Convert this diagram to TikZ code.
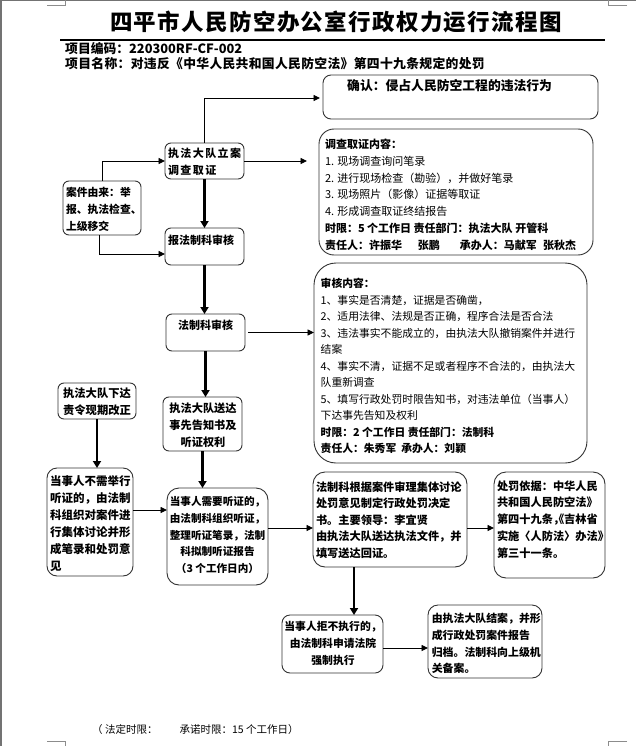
\documentclass[tikz,border=0pt]{standalone}
\usepackage{fontspec}
\setmainfont{Noto Sans CJK SC}
\usetikzlibrary{arrows.meta,calc}
\newcommand{\fsz}[2]{\fontsize{#1pt}{#2pt}\selectfont}
\newcommand{\hw}[1]{{\addfontfeature{CharacterWidth=AlternateHalf}#1}}
\begin{document}
\begin{tikzpicture}[x=1pt,y=-1pt,
  box/.style={draw=black!80,line width=0.9pt,rounded corners=6pt,anchor=north west,inner sep=0pt,outer sep=0pt},
  tl/.style={inner sep=0pt,outer sep=0pt,anchor=north west,align=left},
  tc/.style={inner sep=0pt,outer sep=0pt,anchor=north,align=center},
  arr/.style={line width=0.9pt,-{Triangle[length=6.5pt,width=6pt]}},
  tarr/.style={line width=2.4pt,-{Triangle[length=7pt,width=8pt]}},
  cornermark/.style={draw=black!45,line width=0.8pt}]
\useasboundingbox (0,0) rectangle (636,746);
\fill[white] (0,0) rectangle (636,746);
\fill[black!55] (0,0) rectangle (2,746);
\fill[black!55] (0,0) rectangle (636,1.5);
% corner marks
\draw[cornermark] (47,5.5) -- (65,5.5) -- (65,0);
\draw[cornermark] (627,5.5) -- (608,5.5) -- (608,0);
\draw[cornermark] (47,741.5) -- (65,741.5) -- (65,746);
\draw[cornermark] (627,741.5) -- (608,741.5) -- (608,746);
% header
\node[inner sep=0pt,font=\bfseries\fsz{22.5}{26}\addfontfeature{LetterSpace=6}] (title) at (336,22) {四平市人民防空办公室行政权力运行流程图};
\draw[line width=1.3pt] (60,40) -- (605,40);
\node[anchor=west,inner sep=0pt,font=\bfseries\fsz{12.8}{15}] (code) at (65,49) {项目编码：220300RF-CF-002};
\node[anchor=west,inner sep=0pt,font=\bfseries\fsz{12.8}{15}\addfontfeature{LetterSpace=2.5}] (pname) at (65,64) {项目名称：对违反《中华人民共和国人民防空法》第四十九条规定的处罚};
% boxes
\node[box,rounded corners=8pt,minimum width=275pt,minimum height=44pt] (qr) at (323,75) {};
\node[anchor=west,inner sep=0pt,font=\bfseries\fsz{12.8}{15}] (qrt) at (347,86) {确认：侵占人民防空工程的违法行为};

\node[box,rounded corners=15pt,minimum width=274pt,minimum height=126pt] (dc) at (319,129) {};
\node[tl,font=\fsz{11}{16.83}] (dct) at (325,138.9) {\textbf{调查取证内容：}\\1. 现场调查询问笔录\\2. 进行现场检查（勘验），并做好笔录\\3. 现场照片（影像）证据等取证\\4. 形成调查取证终结报告\\\textbf{时限：5 个工作日\ 责任部门：执法大队\ 开管科}\\\textbf{责任人：许振华\hspace{16pt}张鹏\hspace{20pt}承办人：马献军\hspace{6pt}张秋杰}};

\node[box,minimum width=79pt,minimum height=36pt] (zf) at (165,143) {};
\node[tl,font=\bfseries\fsz{11}{17}\addfontfeature{LetterSpace=13}] (zft) at (168,147.9) {执法大队立案\\调查取证};

\node[box,minimum width=78pt,minimum height=54pt] (ay) at (63,181) {};
\node[tl,font=\bfseries\fsz{10.8}{17}] (ayt) at (66,187) {案件由来：举\\报、执法检查、\\上级移交};

\node[box,minimum width=79pt,minimum height=37pt] (bf) at (165,228) {};
\node[anchor=west,inner sep=0pt,font=\bfseries\fsz{11}{13}] (bft) at (168,240) {报法制科审核};

\node[box,rounded corners=22pt,minimum width=273pt,minimum height=200pt] (sh) at (314,263) {};
\node[tl,font=\fsz{10.8}{16.5}] (sht) at (320.7,278.3) {\textbf{审核内容：}\\1、事实是否清楚，证据是否确凿，\\2、适用法律、法规是否正确，程序合法是否合法\\3、违法事实不能成立的，由执法大队撤销案件并进行\\结案\\4、事实不清，证据不足或者程序不合法的，由执法大\\队重新调查\\5、填写行政处罚时限告知书，对违法单位（当事人）\\下达事先告知及权利\\\textbf{时限：2 个工作日\ 责任部门：法制科}\\\textbf{责任人：朱秀军\ \ 承办人：刘颖}};

\node[box,minimum width=79pt,minimum height=37pt] (fz) at (166,314) {};
\node[inner sep=0pt,font=\bfseries\fsz{11}{13}] (fzt) at (205.5,325) {法制科审核};

\node[box,minimum width=78pt,minimum height=36pt] (xd) at (58,383) {};
\node[tc,font=\bfseries\fsz{11.3}{17}] (xdt) at (97,387.8) {执法大队下达\\责令现期改正};

\node[box,minimum width=79pt,minimum height=54pt] (sd) at (163,397) {};
\node[tc,font=\bfseries\fsz{11.2}{17}] (sdt) at (203,402.8) {执法大队送达\\事先告知书及\\听证权利};

\node[box,rounded corners=10pt,minimum width=86pt,minimum height=108pt] (bx) at (47,468) {};
\node[tl,font=\bfseries\fsz{11.5}{16.9}] (bxt) at (50,475.7) {当事人不需举行\\听证的，由法制\\科组织对案件进\\行集体讨论并形\\成笔录和处罚意\\见};

\node[box,rounded corners=12pt,minimum width=101pt,minimum height=97pt] (xy) at (167,488) {};
\node[tc,font=\bfseries\fsz{10.6}{16.7}] (xyt) at (217.5,496.8) {当事人需要听证的，\\由法制科组织听证，\\整理听证笔录，法制\\科拟制听证报告\\（3 个工作日内）};

\node[box,rounded corners=12pt,minimum width=154pt,minimum height=95pt] (gj) at (313,472) {};
\node[tl,font=\bfseries\fsz{11.2}{16.5}] (gjt) at (316,481.5) {法制科根据案件审理集体讨论\\处罚意见制定行政处罚决定\\书。主要领导：李宜贤\\由执法大队送达执法文件，并\\填写送达回证。};

\node[box,rounded corners=12pt,minimum width=111pt,minimum height=106pt] (yj) at (494,472) {};
\node[tl,font=\bfseries\fsz{11.2}{16.75}] (yjt) at (497,480.4) {处罚依据：中华人民\\共和国人民防空法》\\第四十九条\hw{，《}吉林省\\实施〈人防法〉办法》\\第三十一条。};

\node[box,rounded corners=8pt,minimum width=101pt,minimum height=58pt] (jz) at (282,615) {};
\node[tc,font=\bfseries\fsz{10.8}{16.7}] (jzt) at (333,621.6) {当事人拒不执行的，\\由法制科申请法院\\强制执行};

\node[box,rounded corners=10pt,minimum width=114pt,minimum height=73pt] (ja) at (428,605) {};
\node[tl,font=\bfseries\fsz{10.9}{16.7}] (jat) at (431.8,613.3) {由执法大队结案，并形\\成行政处罚案件报告\\归档。法制科向上级机\\关备案。};

\node[anchor=west,inner sep=0pt,font=\fsz{10.5}{12}] (foot) at (92,730) {（ 法定时限：\hspace{22pt}承诺时限：15 个工作日）};

% connectors
\draw[arr] (zf.north) |- ($(qr.north west)+(-3,23)$);
\draw[arr] (zf.east) -- ($(zf.east -| dc.west)+(-12,0)$);
\draw[arr] (ay.north) |- (zf.west);
\draw[arr] ([xshift=-3pt]ay.south) |- ($(bf.west)+(0,7.5)$);
\draw[tarr] (zf.south) -- (zf.south |- bf.north);
\draw[tarr] (bf.south) -- (bf.south |- fz.north);
\draw[arr,shorten <=3pt] (fz.east) -- (fz.east -| sh.west);
\draw[tarr] (fz.south) -- (fz.south |- sd.north);
\draw[tarr] (xd.south) -- (xd.south |- bx.north);
\draw[tarr] (sd.south) -- (sd.south |- xy.north);
\draw[arr] ($(bx.east)+(0,-12)$) -- ($(bx.east -| xy.west)+(0,-12)$);
\draw[arr] ($(xy.east)+(0,-8.5)$) -- ($(xy.east -| gj.west)+(0,-8.5)$);
\draw[arr] ($(gj.east)+(0,8.5)$) -- ($(gj.east -| yj.west)+(0,8.5)$);
\coordinate (gjb) at ($(gj.south west)+(41,0)$);
\draw[tarr] (gjb) -- (gjb |- jz.north);
\draw[arr] ($(jz.east)+(0,4)$) -- ($(jz.east -| ja.west)+(0,4)$);
\end{tikzpicture}
\end{document}
